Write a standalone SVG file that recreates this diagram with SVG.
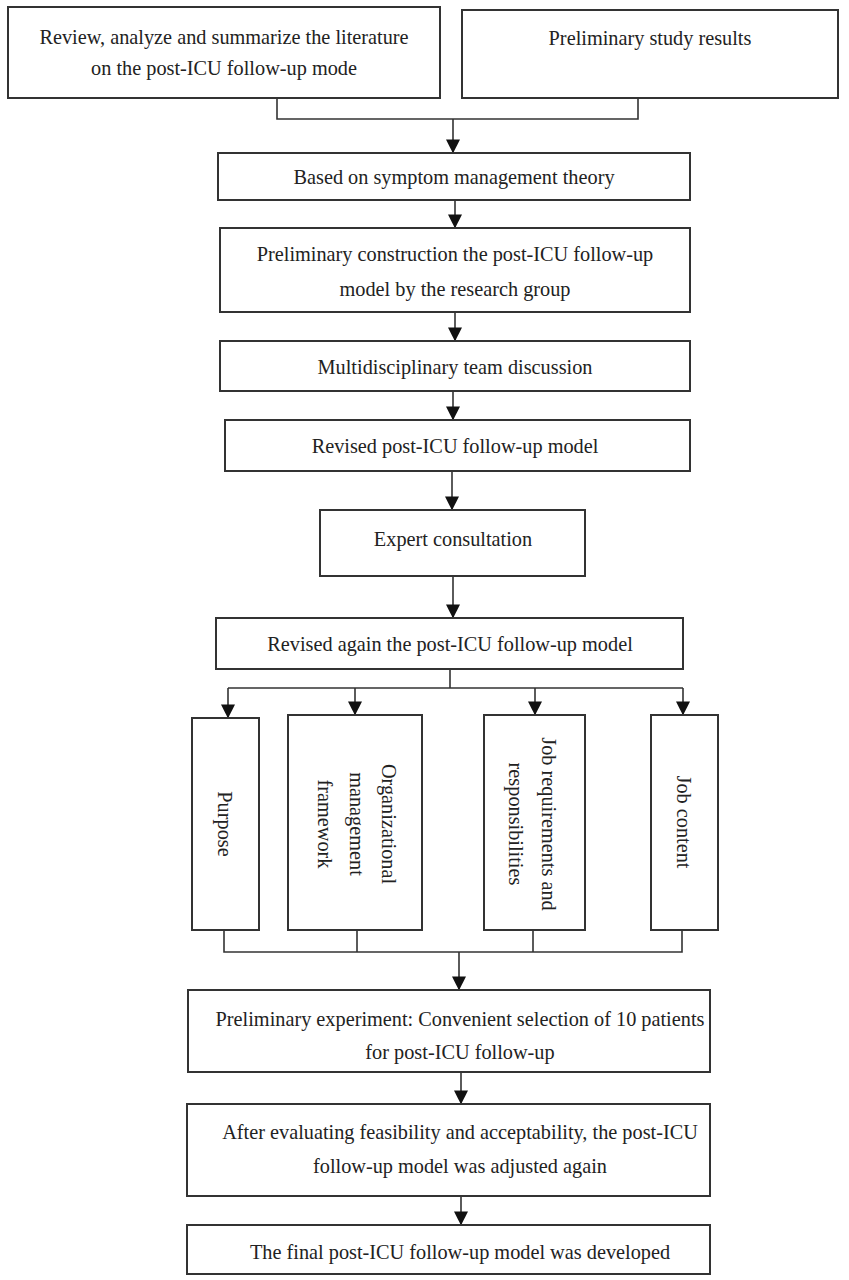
<svg xmlns="http://www.w3.org/2000/svg" width="849" height="1280" viewBox="0 0 849 1280">
<defs>
<style>
.b{fill:#fff;stroke:#333;stroke-width:2}
.t{font-family:"Liberation Serif","Times New Roman",serif;font-size:20.3px;fill:#222;text-anchor:middle;dominant-baseline:central}
.c{fill:none;stroke:#333;stroke-width:1.6}
</style>
<marker id="ab" viewBox="0 0 10 10" refX="9" refY="5" markerWidth="14" markerHeight="14" markerUnits="userSpaceOnUse" orient="auto"><path d="M0,0 L10,5 L0,10 z" fill="#111"/></marker>
</defs>
<rect width="849" height="1280" fill="#fff"/>
<g id="connectors">
<path class="c" d="M277,98 V119 H638 V98"/>
<path class="c" d="M453,119 V152" marker-end="url(#ab)"/>
<path class="c" d="M455,200 V227" marker-end="url(#ab)"/>
<path class="c" d="M455,312 V340" marker-end="url(#ab)"/>
<path class="c" d="M453,391 V419" marker-end="url(#ab)"/>
<path class="c" d="M452,471 V509" marker-end="url(#ab)"/>
<path class="c" d="M453,576 V617" marker-end="url(#ab)"/>
<path class="c" d="M450,669 V688 M228,688 H683"/>
<path class="c" d="M228,688 V717" marker-end="url(#ab)"/>
<path class="c" d="M355,688 V714" marker-end="url(#ab)"/>
<path class="c" d="M535,688 V714" marker-end="url(#ab)"/>
<path class="c" d="M683,688 V714" marker-end="url(#ab)"/>
<path class="c" d="M224,930 V952 H682 V930 M357,930 V952 M533,930 V952"/>
<path class="c" d="M459,952 V989" marker-end="url(#ab)"/>
<path class="c" d="M461,1072 V1103" marker-end="url(#ab)"/>
<path class="c" d="M461,1196 V1224" marker-end="url(#ab)"/>
</g>
<g id="n1"><rect class="b" x="8" y="7" width="432" height="91"/><text class="t" x="224" y="37">Review, analyze and summarize the literature</text><text class="t" x="224" y="68">on the post-ICU follow-up mode</text></g>
<g id="n2"><rect class="b" x="462" y="10" width="376" height="88"/><text class="t" x="650" y="38">Preliminary study results</text></g>
<g id="n3"><rect class="b" x="218" y="153" width="472" height="47"/><text class="t" x="454" y="177">Based on symptom management theory</text></g>
<g id="n4"><rect class="b" x="220" y="228" width="470" height="84"/><text class="t" x="455" y="254">Preliminary construction the post-ICU follow-up</text><text class="t" x="455" y="289">model by the research group</text></g>
<g id="n5"><rect class="b" x="220" y="341" width="470" height="50"/><text class="t" x="455" y="367">Multidisciplinary team discussion</text></g>
<g id="n6"><rect class="b" x="225" y="420" width="465" height="51"/><text class="t" x="455" y="446">Revised post-ICU follow-up model</text></g>
<g id="n7"><rect class="b" x="320" y="510" width="265" height="66"/><text class="t" x="453" y="539">Expert consultation</text></g>
<g id="n8"><rect class="b" x="216" y="618" width="467" height="51"/><text class="t" x="450" y="644">Revised again the post-ICU follow-up model</text></g>
<g id="n9"><rect class="b" x="192" y="718" width="67" height="212"/><text class="t" transform="rotate(90 225 824)" x="225" y="824">Purpose</text></g>
<g id="n10"><rect class="b" x="288" y="715" width="134" height="215"/><g transform="rotate(90 357 824)"><text class="t" x="357" y="792">Organizational</text><text class="t" x="357" y="824">management</text><text class="t" x="357" y="856">framework</text></g></g>
<g id="n11"><rect class="b" x="484" y="715" width="101" height="215"/><g transform="rotate(90 533 824)"><text class="t" x="533" y="808">Job requirements and</text><text class="t" x="533" y="841">responsibilities</text></g></g>
<g id="n12"><rect class="b" x="651" y="715" width="67" height="215"/><text class="t" transform="rotate(90 684 822)" x="684" y="822">Job content</text></g>
<g id="n13"><rect class="b" x="188" y="990" width="522" height="82"/><text class="t" x="460" y="1019">Preliminary experiment: Convenient selection of 10 patients</text><text class="t" x="460" y="1052">for post-ICU follow-up</text></g>
<g id="n14"><rect class="b" x="187" y="1104" width="523" height="92"/><text class="t" x="460" y="1132">After evaluating feasibility and acceptability, the post-ICU</text><text class="t" x="460" y="1166">follow-up model was adjusted again</text></g>
<g id="n15"><rect class="b" x="187" y="1225" width="523" height="49"/><text class="t" x="460" y="1252">The final post-ICU follow-up model was developed</text></g>
</svg>
